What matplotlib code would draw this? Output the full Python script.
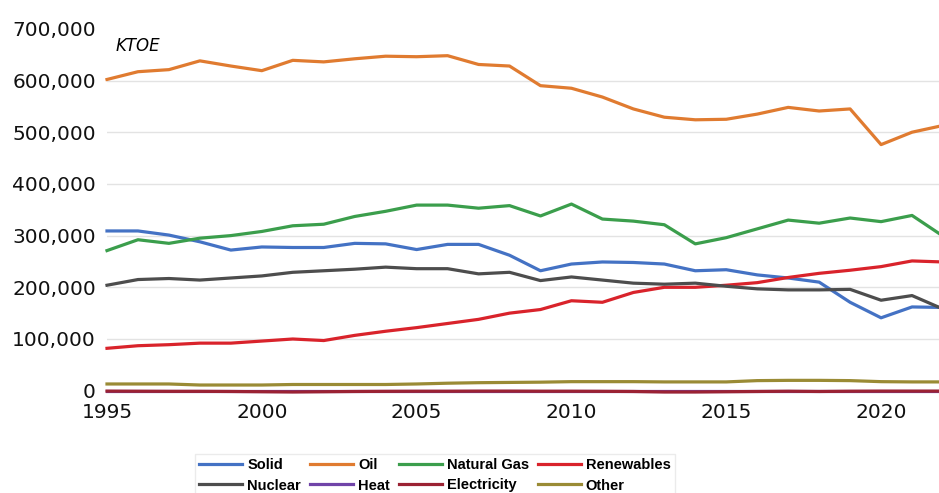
import matplotlib
matplotlib.use("Agg")
from matplotlib import pyplot as plt

years = list(range(1995, 2023))

solid = [309000, 309000, 301000, 288000, 272000, 278000, 277000, 277000, 285000, 284000,
         273000, 283000, 283000, 262000, 232000, 245000, 249000, 248000, 245000, 232000,
         234000, 224000, 218000, 210000, 171000, 141000, 162000, 161000]
oil = [602000, 617000, 621000, 638000, 628000, 619000, 639000, 636000, 642000, 647000,
       646000, 648000, 631000, 628000, 590000, 585000, 568000, 545000, 529000, 524000,
       525000, 535000, 548000, 541000, 545000, 476000, 500000, 513000]
natural_gas = [271000, 292000, 285000, 295000, 300000, 308000, 319000, 322000, 337000, 347000,
               359000, 359000, 353000, 358000, 338000, 361000, 332000, 328000, 321000, 284000,
               296000, 313000, 330000, 324000, 334000, 327000, 339000, 299000]
renewables = [82000, 87000, 89000, 92000, 92000, 96000, 100000, 97000, 107000, 115000,
              122000, 130000, 138000, 150000, 157000, 174000, 171000, 190000, 200000, 200000,
              204000, 209000, 219000, 227000, 233000, 240000, 251000, 249000]
nuclear = [204000, 215000, 217000, 214000, 218000, 222000, 229000, 232000, 235000, 239000,
           236000, 236000, 226000, 229000, 213000, 220000, 214000, 208000, 206000, 208000,
           202000, 197000, 195000, 195000, 196000, 175000, 184000, 158000]
heat = [300, 300, 300, 300, 300, 300, 300, 300, 300, 300,
        300, 300, 300, 300, 300, 300, 300, 300, 300, 300,
        300, 300, 300, 300, 300, 300, 300, 300]
electricity = [-800, -1000, -1200, -1200, -1500, -2000, -2500, -2000, -1500, -1200,
               -1000, -1000, -800, -800, -1000, -1000, -1200, -1500, -2500, -2500,
               -2000, -1500, -1000, -1500, -1000, -800, -800, -800]
other = [13000, 13000, 13000, 11000, 11000, 11000, 12000, 12000, 12000, 12000,
         13000, 14500, 15500, 16000, 16500, 17500, 17500, 17500, 17000, 17000,
         17000, 19500, 20000, 20000, 19500, 17500, 17000, 17000]

series = [
    ("Solid", solid, "#4472C4"),
    ("Oil", oil, "#E07B30"),
    ("Natural Gas", natural_gas, "#3B9E4C"),
    ("Renewables", renewables, "#D9232B"),
    ("Nuclear", nuclear, "#4D4D4D"),
    ("Heat", heat, "#7044A8"),
    ("Electricity", electricity, "#9B2233"),
    ("Other", other, "#9A8B35"),
]

fig = plt.figure(figsize=(9.39, 4.93), dpi=100)
ax = fig.add_axes([107 / 939, 1 - 390.7 / 493, (943 - 107) / 939, (390.7 - 28.8) / 493])

handles = {}
for name, vals, col in series:
    ln, = ax.plot(years, vals, color=col, linewidth=2.3, label=name, clip_on=False,
                  solid_joinstyle="round")
    handles[name] = ln

ax.set_xlim(1995, 2022)
ax.set_ylim(0, 700000)
ax.set_xticks(range(1995, 2021, 5))
ax.set_yticks(range(0, 700001, 100000))
ax.yaxis.set_major_formatter(matplotlib.ticker.FuncFormatter(lambda v, p: f"{int(v):,}"))
ax.tick_params(axis="both", length=0, labelsize=14.5, colors="#111111")
ax.tick_params(axis="y", pad=8)
ax.tick_params(axis="x", pad=9)
for s in ax.spines.values():
    s.set_visible(False)
ax.yaxis.grid(True, color="#e3e3e3", linewidth=1.0)
ax.set_axisbelow(True)
ax.get_ygridlines()[-1].set_visible(False)

fig.text(116 / 939, 1 - 46 / 493, "KTOE", fontsize=12, style="italic", va="center", ha="left")

# legend fills by column, so interleave to get the row order of the original
order = ["Solid", "Nuclear", "Oil", "Heat", "Natural Gas", "Electricity", "Renewables", "Other"]
leg = fig.legend([handles[n] for n in order], order, loc="upper left",
                 bbox_to_anchor=(195 / 939, 1 - 454 / 493), ncol=4,
                 prop={"family": "Liberation Sans", "weight": "bold", "size": 10.5},
                 frameon=True, fancybox=False, edgecolor="#e6e6e6", handlelength=2.95,
                 handletextpad=0.35, columnspacing=0.6, labelspacing=0.42,
                 borderpad=0.3, borderaxespad=0)
for line in leg.get_lines():
    line.set_linewidth(2.3)

plt.savefig("out.png", dpi=100)
